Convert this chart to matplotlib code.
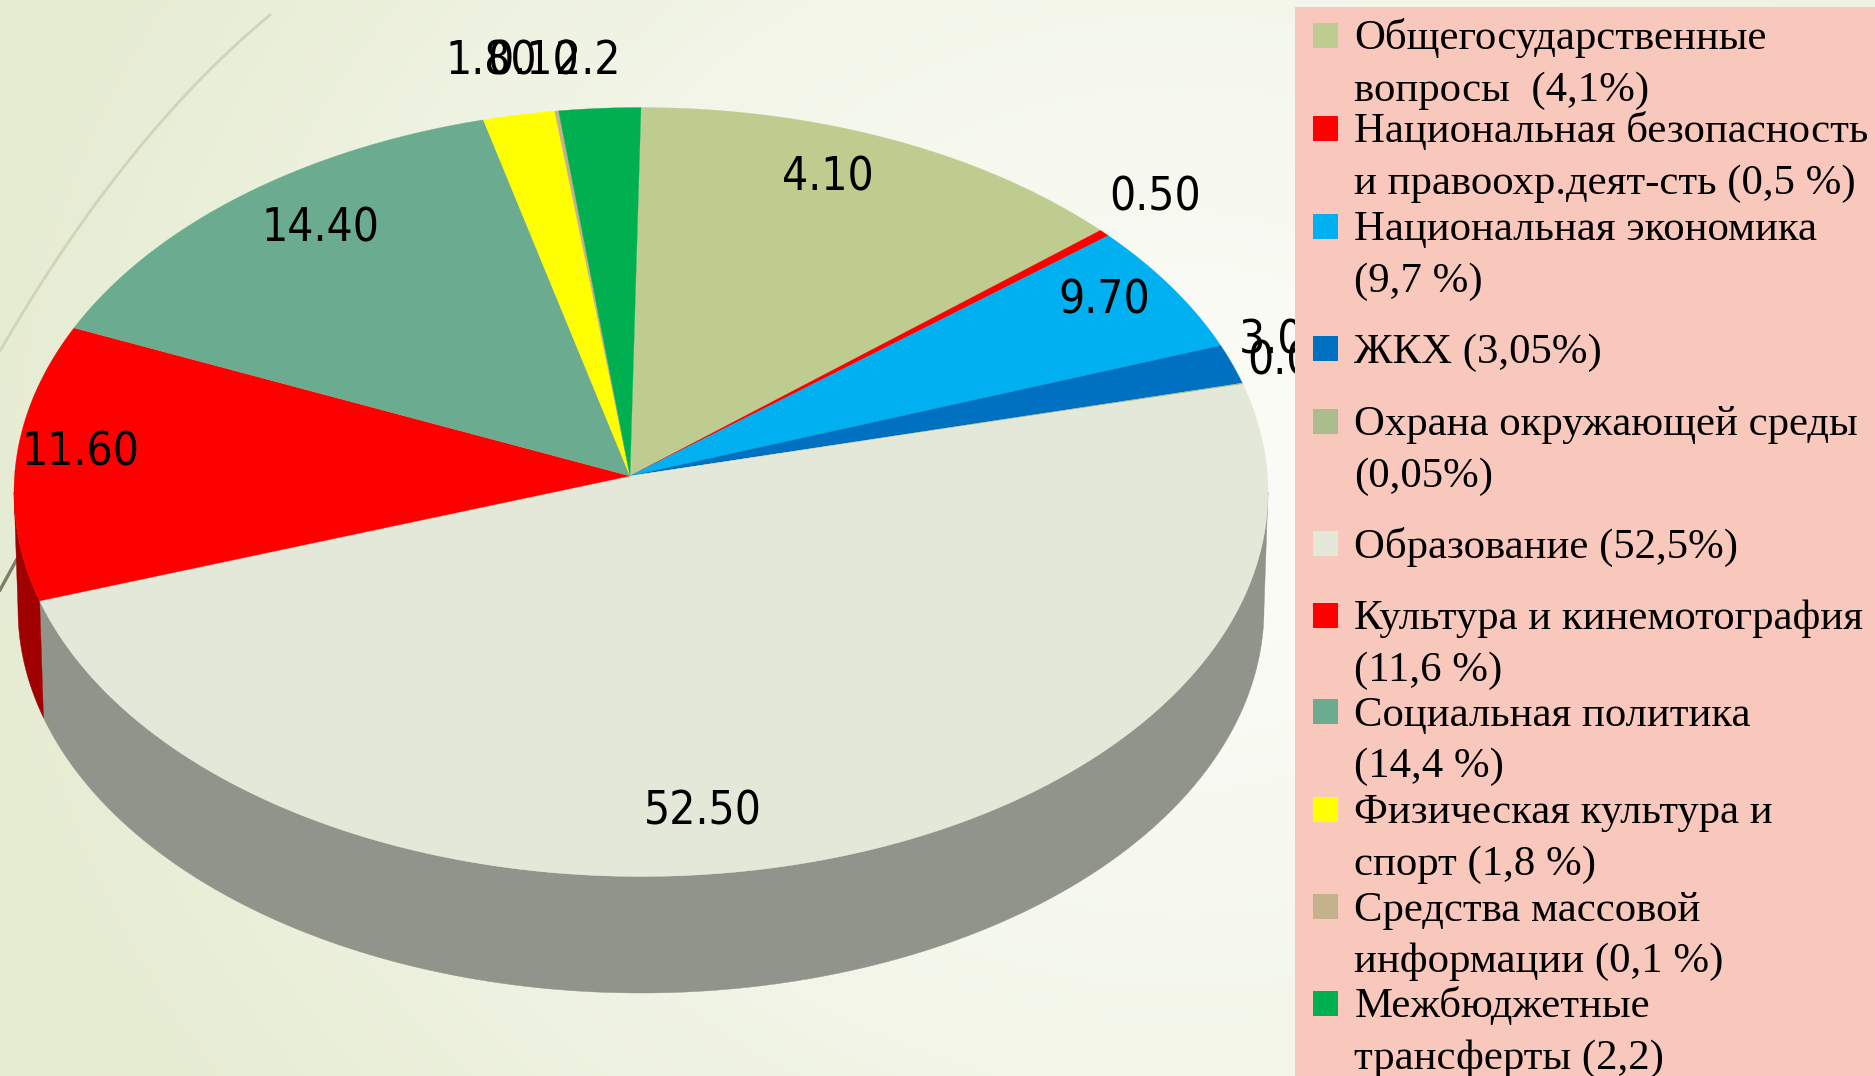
import numpy as np
import matplotlib
matplotlib.use("Agg")
import matplotlib.pyplot as plt
from matplotlib.patches import Rectangle
from matplotlib.colors import to_rgb

# ---------- data ----------
slice_shares = [13.1, 0.3, 5.4, 1.65, 0.05, 50.0, 11.6, 13.95, 1.85, 0.1, 2.1]   # as drawn in the picture
value_labels = ["4.10", "0.50", "9.70", "3.05", "0.05", "52.50", "11.60", "14.40", "1.80", "0.10", "2.2"]
slice_colors = ["#BFCC8F", "#FF0000", "#00B0F0", "#0070C0", "#A9BD8F", "#E3E8D8",
                "#FF0000", "#6BAC90", "#FFFF00", "#C4B28C", "#00B050"]
rim_colors = ["#7F885F", "#A00000", "#007AA6", "#004E86", "#768463", "#90948A",
              "#A00000", "#4A7864", "#B2B200", "#887C61", "#007B38"]
legend_lines = [
    ["Общегосударственные", "вопросы  (4,1%)"],
    ["Национальная безопасность", "и правоохр.деят-сть (0,5 %)"],
    ["Национальная экономика", "(9,7 %)"],
    ["ЖКХ (3,05%)"],
    ["Охрана окружающей среды", "(0,05%)"],
    ["Образование (52,5%)"],
    ["Культура и кинемотография", "(11,6 %)"],
    ["Социальная политика", "(14,4 %)"],
    ["Физическая культура и", "спорт (1,8 %)"],
    ["Средства массовой", "информации (0,1 %)"],
    ["Межбюджетные", "трансферты (2,2)"],
]

# ---------- layout ----------
W, H = 1875, 1076
CX, CY, A, B = 641, 492, 627, 384.5
APEX = (630, 476)
CX2, CY2, A2, B2 = 641, 609, 623, 384
label_pos = [(828, 178), (1155, 198), (1104, 301), (1239, 341), (1247, 362), (703, 812),
             (81, 453), (321, 229), (446, 62), (487, 62), (555, 62)]
legend_y = [35, 128.5, 226, 348.5, 421.5, 543.5, 615, 711.5, 809.5, 906.5, 1003]

fig = plt.figure(figsize=(W / 100, H / 100), dpi=100)
ax = fig.add_axes([0, 0, 1, 1])
ax.set_xlim(0, W)
ax.set_ylim(H, 0)
ax.axis("off")

# background gradient
yy, xx = np.mgrid[0:H:2, 0:W:2]
r = np.clip(np.hypot((xx - 1180) / 1.15, (yy - 500) * 1.0) / 1050, 0, 1) ** 1.5
c0, c1 = np.array(to_rgb("#FBFCF7")), np.array(to_rgb("#E6ECD2"))
bg = c0[None, None, :] * (1 - r[..., None]) + c1[None, None, :] * r[..., None]
ax.imshow(bg, extent=(0, W, H, 0), aspect="auto", zorder=0, interpolation="bilinear")

# decorative arcs
s = np.linspace(0, 1, 60)
ax.plot((1 - s) ** 2 * 0 + 2 * s * (1 - s) * 125 + s ** 2 * 270,
        (1 - s) ** 2 * 351 + 2 * s * (1 - s) * 135 + s ** 2 * 15,
        color="#D0D5B9", lw=2, zorder=1)
ax.plot([0, 17], [590, 559], color="#7F7D66", lw=2.4, zorder=1)

# pie
bounds = np.concatenate([[0], np.cumsum(slice_shares)]) / np.sum(slice_shares) * 2 * np.pi


def top(t):
    return CX + A * np.sin(t), CY - B * np.cos(t)


def bottom(t):
    return CX2 + A2 * np.sin(t), CY2 - B2 * np.cos(t)


for i in range(len(slice_shares)):
    t0, t1 = bounds[i], bounds[i + 1]
    lo, hi = max(t0, np.pi / 2), min(t1, 3 * np.pi / 2)
    if hi > lo:
        t = np.linspace(lo, hi, 200)
        xt, yt = top(t)
        xb, yb = bottom(t)
        ax.fill(np.r_[xt, xb[::-1]], np.r_[yt, yb[::-1]], color=rim_colors[i], lw=0.3, zorder=2)

for i in range(len(slice_shares)):
    t = np.linspace(bounds[i], bounds[i + 1], 200)
    x, y = top(t)
    ax.fill(np.r_[APEX[0], x], np.r_[APEX[1], y], color=slice_colors[i], lw=0.2, zorder=3)

# value labels (the panel hides the ones that run under it)
lab_font = dict(family="DejaVu Sans", stretch="condensed", size=33, color="black", zorder=4)
for i, (txt, (lx, ly)) in enumerate(zip(value_labels, label_pos)):
    left = i in (3, 4, 8, 9, 10)
    ax.text(lx, ly, txt, ha="left" if left else "center", va="center", **lab_font)

# legend panel
ax.add_patch(Rectangle((1295, 7), W - 1295, H - 7, fc="#F9C8BD", ec="none", zorder=5))
for col, lines, yc in zip(slice_colors, legend_lines, legend_y):
    ax.add_patch(Rectangle((1313, yc - 12.5), 25, 25, fc=col, ec="none", zorder=6))
    for k, line in enumerate(lines):
        ax.text(1354.5, yc + 14 + k * 51.5, line, family="Liberation Serif", size=30.75,
                ha="left", va="baseline", color="black", zorder=6)

fig.savefig("out.png", dpi=100)
